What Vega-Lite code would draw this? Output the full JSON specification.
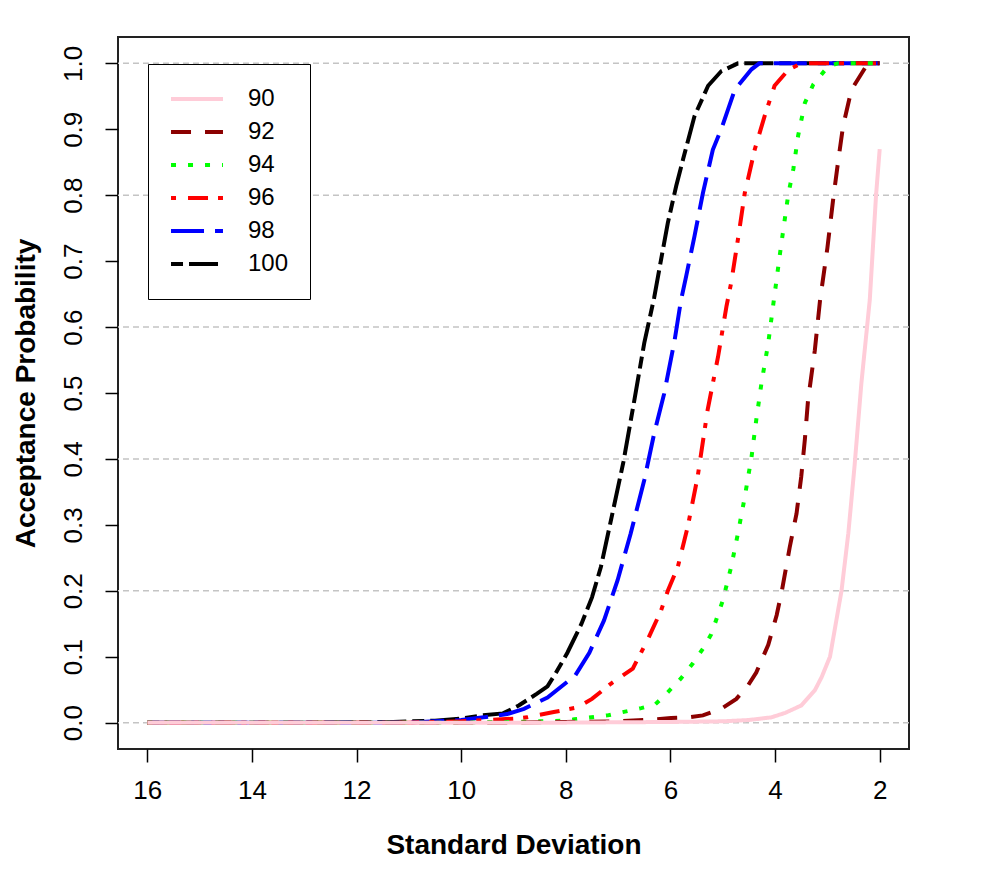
{
  "$schema": "https://vega.github.io/schema/vega-lite/v6.json",
  "width": 791,
  "height": 712,
  "autosize": "none",
  "padding": {"left": 118, "top": 37, "right": 75, "bottom": 122},
  "background": "white",
  "config": {
    "font": "Liberation Sans",
    "view": {"stroke": "#222222", "strokeWidth": 2},
    "axisY": {
      "grid": false, "domain": false,
      "tickSize": 13, "tickWidth": 1.5, "tickColor": "black",
      "labelFontSize": 26, "labelAngle": 270, "labelAlign": "center", "labelBaseline": "alphabetic",
      "labelPadding": 24, "labelColor": "black", "labelFlush": false,
      "titleFontSize": 28, "titleFontWeight": "bold", "titleColor": "black", "titlePadding": 20
    }
  },
  "datasets": {
    "grid": [{"g": 0}, {"g": 0.2}, {"g": 0.4}, {"g": 0.6}, {"g": 0.8}, {"g": 1.0}],
    "curves": [
      {"s": 16, "p": 0, "k": "100"}, {"s": 13, "p": 0, "k": "100"}, {"s": 11.3, "p": 0.001, "k": "100"}, {"s": 10.5, "p": 0.003, "k": "100"}, {"s": 10, "p": 0.006, "k": "100"}, {"s": 9.6, "p": 0.011, "k": "100"}, {"s": 9.2, "p": 0.014, "k": "100"}, {"s": 8.9, "p": 0.026, "k": "100"}, {"s": 8.55, "p": 0.044, "k": "100"}, {"s": 8.35, "p": 0.055, "k": "100"}, {"s": 8.2, "p": 0.074, "k": "100"}, {"s": 7.97, "p": 0.106, "k": "100"}, {"s": 7.7, "p": 0.15, "k": "100"}, {"s": 7.5, "p": 0.19, "k": "100"}, {"s": 7.33, "p": 0.236, "k": "100"}, {"s": 7.11, "p": 0.317, "k": "100"}, {"s": 6.9, "p": 0.395, "k": "100"}, {"s": 6.69, "p": 0.489, "k": "100"}, {"s": 6.5, "p": 0.576, "k": "100"}, {"s": 6.31, "p": 0.645, "k": "100"}, {"s": 6.18, "p": 0.702, "k": "100"}, {"s": 6.05, "p": 0.758, "k": "100"}, {"s": 5.89, "p": 0.814, "k": "100"}, {"s": 5.76, "p": 0.854, "k": "100"}, {"s": 5.54, "p": 0.92, "k": "100"}, {"s": 5.28, "p": 0.966, "k": "100"}, {"s": 5.03, "p": 0.988, "k": "100"}, {"s": 4.71, "p": 1, "k": "100"}, {"s": 2, "p": 1, "k": "100"},
      {"s": 16, "p": 0, "k": "98"}, {"s": 11, "p": 0, "k": "98"}, {"s": 10.5, "p": 0.002, "k": "98"}, {"s": 10, "p": 0.004, "k": "98"}, {"s": 9.57, "p": 0.008, "k": "98"}, {"s": 9.12, "p": 0.013, "k": "98"}, {"s": 8.8, "p": 0.021, "k": "98"}, {"s": 8.35, "p": 0.038, "k": "98"}, {"s": 7.97, "p": 0.062, "k": "98"}, {"s": 7.84, "p": 0.069, "k": "98"}, {"s": 7.55, "p": 0.106, "k": "98"}, {"s": 7.27, "p": 0.155, "k": "98"}, {"s": 7.01, "p": 0.216, "k": "98"}, {"s": 6.76, "p": 0.287, "k": "98"}, {"s": 6.5, "p": 0.368, "k": "98"}, {"s": 6.31, "p": 0.439, "k": "98"}, {"s": 6.12, "p": 0.499, "k": "98"}, {"s": 5.92, "p": 0.58, "k": "98"}, {"s": 5.8, "p": 0.64, "k": "98"}, {"s": 5.7, "p": 0.677, "k": "98"}, {"s": 5.54, "p": 0.738, "k": "98"}, {"s": 5.38, "p": 0.803, "k": "98"}, {"s": 5.19, "p": 0.869, "k": "98"}, {"s": 5.03, "p": 0.9, "k": "98"}, {"s": 4.77, "p": 0.96, "k": "98"}, {"s": 4.45, "p": 0.991, "k": "98"}, {"s": 4.3, "p": 1, "k": "98"}, {"s": 2, "p": 1, "k": "98"},
      {"s": 16, "p": 0, "k": "96"}, {"s": 11, "p": 0, "k": "96"}, {"s": 10, "p": 0.002, "k": "96"}, {"s": 9.5, "p": 0.004, "k": "96"}, {"s": 9, "p": 0.006, "k": "96"}, {"s": 8.74, "p": 0.008, "k": "96"}, {"s": 8.23, "p": 0.016, "k": "96"}, {"s": 7.78, "p": 0.023, "k": "96"}, {"s": 7.5, "p": 0.036, "k": "96"}, {"s": 7.14, "p": 0.059, "k": "96"}, {"s": 6.72, "p": 0.082, "k": "96"}, {"s": 6.44, "p": 0.125, "k": "96"}, {"s": 6.18, "p": 0.17, "k": "96"}, {"s": 6.05, "p": 0.2, "k": "96"}, {"s": 5.86, "p": 0.236, "k": "96"}, {"s": 5.67, "p": 0.297, "k": "96"}, {"s": 5.48, "p": 0.373, "k": "96"}, {"s": 5.29, "p": 0.474, "k": "96"}, {"s": 5.09, "p": 0.555, "k": "96"}, {"s": 4.93, "p": 0.631, "k": "96"}, {"s": 4.84, "p": 0.667, "k": "96"}, {"s": 4.71, "p": 0.733, "k": "96"}, {"s": 4.58, "p": 0.803, "k": "96"}, {"s": 4.39, "p": 0.869, "k": "96"}, {"s": 4.2, "p": 0.92, "k": "96"}, {"s": 4.01, "p": 0.966, "k": "96"}, {"s": 3.75, "p": 0.99, "k": "96"}, {"s": 3.5, "p": 1, "k": "96"}, {"s": 2, "p": 1, "k": "96"},
      {"s": 16, "p": 0, "k": "94"}, {"s": 10, "p": 0, "k": "94"}, {"s": 9, "p": 0.001, "k": "94"}, {"s": 8, "p": 0.003, "k": "94"}, {"s": 7.84, "p": 0.005, "k": "94"}, {"s": 7.2, "p": 0.011, "k": "94"}, {"s": 6.56, "p": 0.022, "k": "94"}, {"s": 6.3, "p": 0.027, "k": "94"}, {"s": 6.1, "p": 0.042, "k": "94"}, {"s": 5.8, "p": 0.067, "k": "94"}, {"s": 5.57, "p": 0.09, "k": "94"}, {"s": 5.38, "p": 0.112, "k": "94"}, {"s": 5.22, "p": 0.134, "k": "94"}, {"s": 5, "p": 0.185, "k": "94"}, {"s": 4.84, "p": 0.236, "k": "94"}, {"s": 4.71, "p": 0.287, "k": "94"}, {"s": 4.58, "p": 0.342, "k": "94"}, {"s": 4.45, "p": 0.403, "k": "94"}, {"s": 4.36, "p": 0.459, "k": "94"}, {"s": 4.26, "p": 0.515, "k": "94"}, {"s": 4.13, "p": 0.576, "k": "94"}, {"s": 4.04, "p": 0.631, "k": "94"}, {"s": 3.9, "p": 0.715, "k": "94"}, {"s": 3.75, "p": 0.8, "k": "94"}, {"s": 3.65, "p": 0.84, "k": "94"}, {"s": 3.56, "p": 0.89, "k": "94"}, {"s": 3.43, "p": 0.94, "k": "94"}, {"s": 3.27, "p": 0.968, "k": "94"}, {"s": 2.98, "p": 0.996, "k": "94"}, {"s": 2.8, "p": 1, "k": "94"}, {"s": 2, "p": 1, "k": "94"},
      {"s": 16, "p": 0, "k": "92"}, {"s": 9, "p": 0, "k": "92"}, {"s": 8, "p": 0.001, "k": "92"}, {"s": 7, "p": 0.002, "k": "92"}, {"s": 6.3, "p": 0.005, "k": "92"}, {"s": 5.99, "p": 0.007, "k": "92"}, {"s": 5.67, "p": 0.008, "k": "92"}, {"s": 5.38, "p": 0.011, "k": "92"}, {"s": 5.03, "p": 0.021, "k": "92"}, {"s": 4.74, "p": 0.036, "k": "92"}, {"s": 4.52, "p": 0.056, "k": "92"}, {"s": 4.36, "p": 0.076, "k": "92"}, {"s": 4.13, "p": 0.118, "k": "92"}, {"s": 3.97, "p": 0.163, "k": "92"}, {"s": 3.87, "p": 0.2, "k": "92"}, {"s": 3.72, "p": 0.266, "k": "92"}, {"s": 3.59, "p": 0.317, "k": "92"}, {"s": 3.5, "p": 0.373, "k": "92"}, {"s": 3.43, "p": 0.43, "k": "92"}, {"s": 3.37, "p": 0.489, "k": "92"}, {"s": 3.24, "p": 0.565, "k": "92"}, {"s": 3.14, "p": 0.641, "k": "92"}, {"s": 3.0, "p": 0.72, "k": "92"}, {"s": 2.88, "p": 0.8, "k": "92"}, {"s": 2.79, "p": 0.854, "k": "92"}, {"s": 2.7, "p": 0.905, "k": "92"}, {"s": 2.54, "p": 0.96, "k": "92"}, {"s": 2.28, "p": 0.993, "k": "92"}, {"s": 2.1, "p": 1, "k": "92"}, {"s": 2, "p": 1, "k": "92"},
      {"s": 16, "p": 0, "k": "90"}, {"s": 8, "p": 0, "k": "90"}, {"s": 6, "p": 0.001, "k": "90"}, {"s": 5, "p": 0.002, "k": "90"}, {"s": 4.5, "p": 0.004, "k": "90"}, {"s": 4.07, "p": 0.008, "k": "90"}, {"s": 3.8, "p": 0.015, "k": "90"}, {"s": 3.5, "p": 0.026, "k": "90"}, {"s": 3.24, "p": 0.049, "k": "90"}, {"s": 3.11, "p": 0.069, "k": "90"}, {"s": 2.95, "p": 0.1, "k": "90"}, {"s": 2.73, "p": 0.2, "k": "90"}, {"s": 2.6, "p": 0.287, "k": "90"}, {"s": 2.48, "p": 0.39, "k": "90"}, {"s": 2.35, "p": 0.515, "k": "90"}, {"s": 2.19, "p": 0.641, "k": "90"}, {"s": 2.07, "p": 0.8, "k": "90"}, {"s": 2, "p": 0.87, "k": "90"}
    ]
  },
  "layer": [
    {
      "data": {"name": "grid"},
      "mark": {"type": "rule", "color": "#C4C4C4", "strokeWidth": 1.5, "strokeDash": [6, 4]},
      "encoding": {
        "y": {
          "field": "g", "type": "quantitative",
          "scale": {"domain": [-0.04, 1.04], "nice": false, "zero": false},
          "axis": {"values": [0, 0.1, 0.2, 0.3, 0.4, 0.5, 0.6, 0.7, 0.8, 0.9, 1.0], "format": ".1f", "title": "Acceptance Probability"}
        }
      }
    },
    {
      "data": {"name": "curves"},
      "mark": {"type": "line", "strokeWidth": 4, "strokeCap": "butt"},
      "encoding": {
        "x": {
          "field": "s", "type": "quantitative",
          "scale": {"domain": [1.44, 16.56], "reverse": true, "nice": false, "zero": false},
          "axis": {
            "values": [2, 4, 6, 8, 10, 12, 14, 16], "grid": false, "domain": false,
            "tickSize": 13, "tickWidth": 1.5, "tickColor": "black",
            "labelFontSize": 26, "labelPadding": 15, "labelColor": "black", "labelFlush": false,
            "title": "Standard Deviation", "titleFontSize": 28, "titleFontWeight": "bold", "titleColor": "black", "titlePadding": 28
          }
        },
        "y": {
          "field": "p", "type": "quantitative",
          "scale": {"domain": [-0.04, 1.04], "nice": false, "zero": false},
          "axis": {"values": [0, 0.1, 0.2, 0.3, 0.4, 0.5, 0.6, 0.7, 0.8, 0.9, 1.0], "format": ".1f", "title": "Acceptance Probability"}
        },
        "color": {
          "field": "k", "type": "nominal",
          "scale": {"domain": ["90", "92", "94", "96", "98", "100"], "range": ["#FFCCD8", "#8B0000", "#00FF00", "#FF0000", "#0000FF", "#000000"]},
          "legend": {
            "orient": "none", "legendX": 30, "legendY": 27, "title": null,
            "symbolType": "stroke", "symbolSize": 2700, "symbolStrokeWidth": 4,
            "labelFontSize": 24, "labelColor": "black", "labelOffset": 23, "rowPadding": 5, "clipHeight": 28,
            "padding": 21, "strokeColor": "black", "fillColor": "white"
          }
        },
        "strokeDash": {
          "field": "k", "type": "nominal",
          "scale": {"domain": ["90", "92", "94", "96", "98", "100"], "range": [[1, 0], [20, 14], [5, 12], [5, 12, 20, 10], [33, 11], [12, 6, 29, 6]]},
          "legend": {
            "orient": "none", "legendX": 30, "legendY": 27, "title": null,
            "symbolType": "stroke", "symbolSize": 2700, "symbolStrokeWidth": 4,
            "labelFontSize": 24, "labelColor": "black", "labelOffset": 23, "rowPadding": 5, "clipHeight": 28,
            "padding": 21, "strokeColor": "black", "fillColor": "white"
          }
        }
      }
    }
  ]
}
